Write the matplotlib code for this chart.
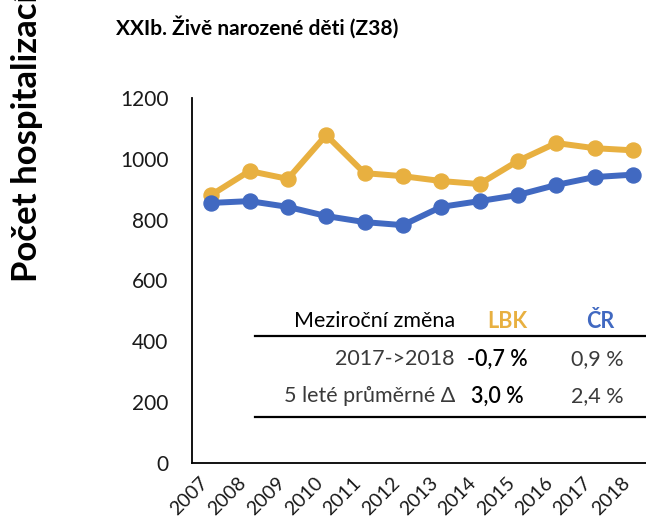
import matplotlib
matplotlib.use("Agg")
import matplotlib.pyplot as plt
import matplotlib.transforms as mtransforms

plt.rcParams['font.family'] = ['Lato', 'DejaVu Sans']

years = ['2007', '2008', '2009', '2010', '2011', '2012', '2013', '2014', '2015', '2016', '2017', '2018']
lbk = [881, 960, 934, 1078, 953, 943, 927, 917, 993, 1052, 1035, 1028]
cr = [855, 861, 842, 812, 792, 782, 842, 861, 881, 914, 940, 948]
yticks = [0, 200, 400, 600, 800, 1000, 1200]

title = "XXIb. Živě narozené děti (Z38)"
ylabel = "Počet hospitalizací"
tab_header = ["Meziroční změna", "LBK", "ČR"]
tab_rows = [["2017->2018", "-0,7 %", "0,9 %"],
            ["5 leté průměrné Δ", "3,0 %", "2,4 %"]]

YEL = '#E8B040'
BLU = '#4169C1'

W, H = 646, 527
fig = plt.figure(figsize=(W / 100, H / 100), dpi=100)

def fx(px):
    return px / W

def fy(py):
    return 1 - py / H

ax = fig.add_axes([fx(192), fy(463), (652 - 192) / W, (463 - 98) / H])
x = list(range(len(years)))
ax.plot(x, lbk, color=YEL, lw=4.3, marker='o', ms=10.8, zorder=3)
ax.plot(x, cr, color=BLU, lw=4.3, marker='o', ms=10.8, zorder=4)
ax.set_xlim(-0.5, len(years) - 0.5)
ax.set_ylim(0, 1200)
ax.set_yticks(yticks)
ax.set_yticklabels([str(v) for v in yticks], fontsize=15, color='#1a1a1a')
ax.set_xticks(x)
ax.set_xticklabels(years, fontsize=14, rotation=45, ha='right', va='top', color='#1a1a1a')
offset = mtransforms.ScaledTranslation(5 / 100, 0, fig.dpi_scale_trans)
for lab in ax.get_xticklabels():
    lab.set_transform(lab.get_transform() + offset)
ax.tick_params(axis='y', length=0, pad=17)
ax.tick_params(axis='x', length=0, pad=8)
for s in ['top', 'right']:
    ax.spines[s].set_visible(False)
for s in ['left', 'bottom']:
    ax.spines[s].set_linewidth(1.3)
    ax.spines[s].set_color('black')

fig.text(fx(257), fy(27), title, fontsize=15, fontweight='bold', ha='center', va='center')
fig.text(fx(27), fy(282), ylabel, fontsize=25, fontweight='bold', rotation=90,
         ha='center', va='bottom')

# table
fig.text(fx(455), fy(321), tab_header[0], fontsize=15.5, ha='right', va='center', color='black')
fig.text(fx(507), fy(321), tab_header[1], fontsize=15.5, ha='center', va='center', color=YEL, fontweight='bold')
fig.text(fx(600), fy(321), tab_header[2], fontsize=15.5, ha='center', va='center', color=BLU, fontweight='bold')
row_y = [359, 396]
for ry, row in zip(row_y, tab_rows):
    fig.text(fx(455), fy(ry), row[0], fontsize=15.5, ha='right', va='center', color='#3a3a3a')
    fig.text(fx(497), fy(ry), row[1], fontsize=15.5, ha='center', va='center', color='black', fontweight='semibold')
    fig.text(fx(597), fy(ry), row[2], fontsize=15.5, ha='center', va='center', color='#3a3a3a')
for ly in [336, 417]:
    fig.add_artist(plt.Line2D([fx(255), fx(646)], [fy(ly), fy(ly)], color='black', lw=1.6,
                              transform=fig.transFigure))

fig.savefig('out.png', dpi=100)
